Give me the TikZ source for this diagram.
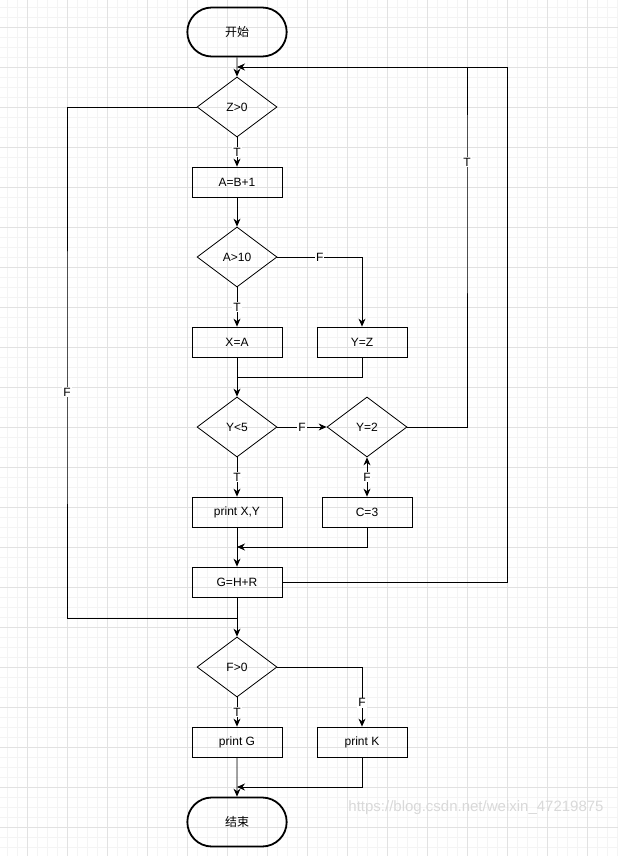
\documentclass[tikz,border=0pt]{standalone}
\usepackage{fontspec}
\setmainfont{Liberation Sans}
\newfontfamily\cjk{Noto Sans CJK SC}
\usetikzlibrary{arrows.meta,shapes,positioning}
\definecolor{gridmajor}{HTML}{E2E2E2}
\definecolor{gridminor}{HTML}{F4F4F4}
\begin{document}
\begin{tikzpicture}[x = 1pt, y = -1pt, line width = .8pt,
  >={Stealth[length=8pt,width=7pt]},
  every node/.style = {font = \fontsize{12}{14}\selectfont},
  term/.style = {draw, rounded rectangle, line width = 1.8pt, minimum width = 106pt, minimum height = 49pt},
  proc/.style = {draw, rectangle, minimum width = 90pt, minimum height = 30pt, inner sep = 0pt},
  cond/.style = {draw, diamond, minimum width = 80pt, minimum height = 60pt, inner sep = 0pt},
  lbl/.style = {fill = white, inner sep = 1pt}]
\useasboundingbox (0,0) rectangle (618,856);
% background grid
\fill[white] (0,0) rectangle (618,856);
\foreach \k in {0,...,61} \draw[gridminor, line width = .6pt] (7+10*\k,0) -- (7+10*\k,856);
\foreach \k in {0,...,84} \draw[gridminor, line width = .6pt] (0,7+10*\k) -- (618,7+10*\k);
\foreach \k in {0,...,14} \draw[gridmajor, line width = .8pt] (27+40*\k,0) -- (27+40*\k,856);
\foreach \k in {0,...,20} \draw[gridmajor, line width = .8pt] (0,27+40*\k) -- (618,27+40*\k);

% shapes
\node[term] (start) at (237,32) {\cjk 开始};
\node[cond] (z0) at (237,107) {Z>0};
\node[proc] (ab) at (237,182) {A=B+1};
\node[cond] (a10) at (237,257) {A>10};
\node[proc] (xa) at (237,342) {X=A};
\node[proc] (yz) at (362,342) {Y=Z};
\node[cond] (y5) at (237,427) {Y<5};
\node[cond] (y2) at (367,427) {Y=2};
\node[proc] (pxy) at (237,512) {print X,Y};
\node[proc] (c3) at (367,512) {C=3};
\node[proc] (gh) at (237,582) {G=H+R};
\node[cond] (f0) at (237,667) {F>0};
\node[proc] (pg) at (237,742) {print G};
\node[proc] (pk) at (362,742) {print K};
\node[term] (stop) at (237,822) {\cjk 结束};

\coordinate (loop) at (237,67);
\coordinate (join1) at (237,377);
\coordinate (join2) at (237,547);
\coordinate (join3) at (237,618);
\coordinate (join4) at (237,787);

% connectors
\draw[->] (start) -- (z0);
\draw[->] (z0) -- node[lbl] {T} (ab);
\draw (z0.west) -| (67,392) node[lbl] {F} |- (join3);
\draw[->] (ab) -- (a10);
\draw[->] (a10) -- node[lbl] {T} (xa);
\draw[->] (a10.east) -- node[lbl] {F} (362,257) -- (yz);
\draw[->] (xa) -- (y5);
\draw (yz) |- (join1);
\draw[->] (y5) -- node[lbl] {T} (pxy);
\draw[->] (y5) -- node[lbl] {F} (y2);
\draw[<->] (y2) -- node[lbl] {F} (c3);
\draw (y2.east) -| (467,162) node[lbl] {T} -- (467,67);
\draw[->] (c3) |- (join2);
\draw[->] (pxy) -- (gh);
\draw[->] (gh.east) -- (507,582) -- (507,67) -- (loop);
\draw[->] (gh) -- (f0);
\draw[->] (f0) -- node[lbl] {T} (pg);
\draw[->] (f0.east) -| node[lbl, pos = .8] {F} (pk);
\draw[->] (pg) -- (stop);
\draw[->] (pk) |- (join4);

\node[gray!30, font = \fontsize{15}{17}\selectfont] (mark) at (476,808) {https://blog.csdn.net/weixin\_47219875};
\end{tikzpicture}
\end{document}
